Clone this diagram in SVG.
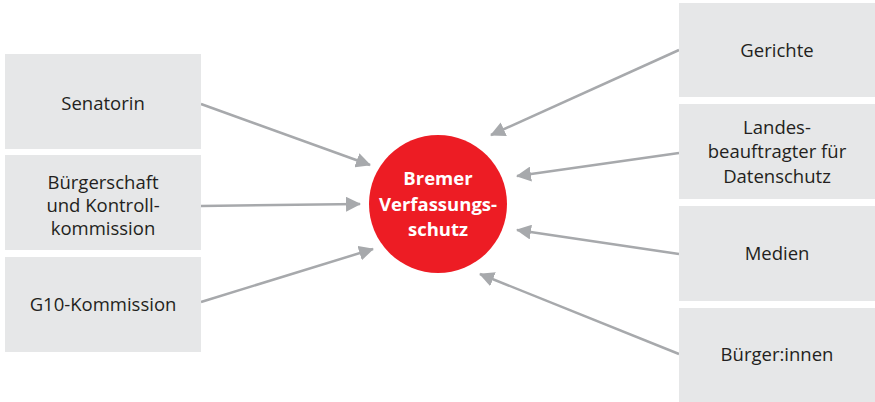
<svg xmlns="http://www.w3.org/2000/svg" width="875" height="402" viewBox="0 0 875 402">
<style>
.box{fill:#e6e7e8}
.t{font-family:"Open Sans","Noto Sans",sans-serif;font-size:18.5px;fill:#231f20;text-anchor:middle}
.c{font-family:"Open Sans","Noto Sans",sans-serif;font-size:18.5px;font-weight:bold;fill:#fff;text-anchor:middle}
.a{stroke:#a7a9ac;stroke-width:2.5;fill:none;marker-end:url(#ah)}
</style>
<defs>
<marker id="ah" markerWidth="6" markerHeight="6" refX="5.6" refY="3" orient="auto" markerUnits="strokeWidth">
<path d="M0,0 L6,3 L0,6 Z" fill="#a7a9ac"/>
</marker>
</defs>
<rect width="875" height="402" fill="#fff"/>
<g id="connectors">
<line class="a" x1="201" y1="104" x2="370" y2="165"/>
<line class="a" x1="201" y1="206" x2="360" y2="204"/>
<line class="a" x1="201" y1="302" x2="373" y2="249"/>
<line class="a" x1="679" y1="50" x2="491" y2="135"/>
<line class="a" x1="679" y1="153" x2="517" y2="176"/>
<line class="a" x1="679" y1="254" x2="517" y2="230"/>
<line class="a" x1="679" y1="354" x2="480" y2="274"/>
</g>
<g id="senatorin"><rect class="box" x="5" y="54" width="196" height="95"/><text class="t" x="103" y="110">Senatorin</text></g>
<g id="buergerschaft"><rect class="box" x="5" y="155" width="196" height="95"/><text class="t" x="103" y="189">Bürgerschaft</text><text class="t" x="103" y="212">und Kontroll-</text><text class="t" x="103" y="235">kommission</text></g>
<g id="g10"><rect class="box" x="5" y="257" width="196" height="95"/><text class="t" x="103" y="311">G10-Kommission</text></g>
<g id="gerichte"><rect class="box" x="679" y="3" width="196" height="94"/><text class="t" x="777" y="57">Gerichte</text></g>
<g id="landes"><rect class="box" x="679" y="104" width="196" height="95"/><text class="t" x="777" y="134">Landes-</text><text class="t" x="777" y="158">beauftragter für</text><text class="t" x="777" y="183">Datenschutz</text></g>
<g id="medien"><rect class="box" x="679" y="206" width="196" height="95"/><text class="t" x="777" y="260">Medien</text></g>
<g id="buerger"><rect class="box" x="679" y="308" width="196" height="94"/><text class="t" x="777" y="361">Bürger:innen</text></g>
<g id="center"><circle cx="438" cy="204" r="69" fill="#ed1c24"/><text class="c" x="438" y="185">Bremer</text><text class="c" x="438" y="211">Verfassungs-</text><text class="c" x="438" y="236">schutz</text></g>
</svg>
